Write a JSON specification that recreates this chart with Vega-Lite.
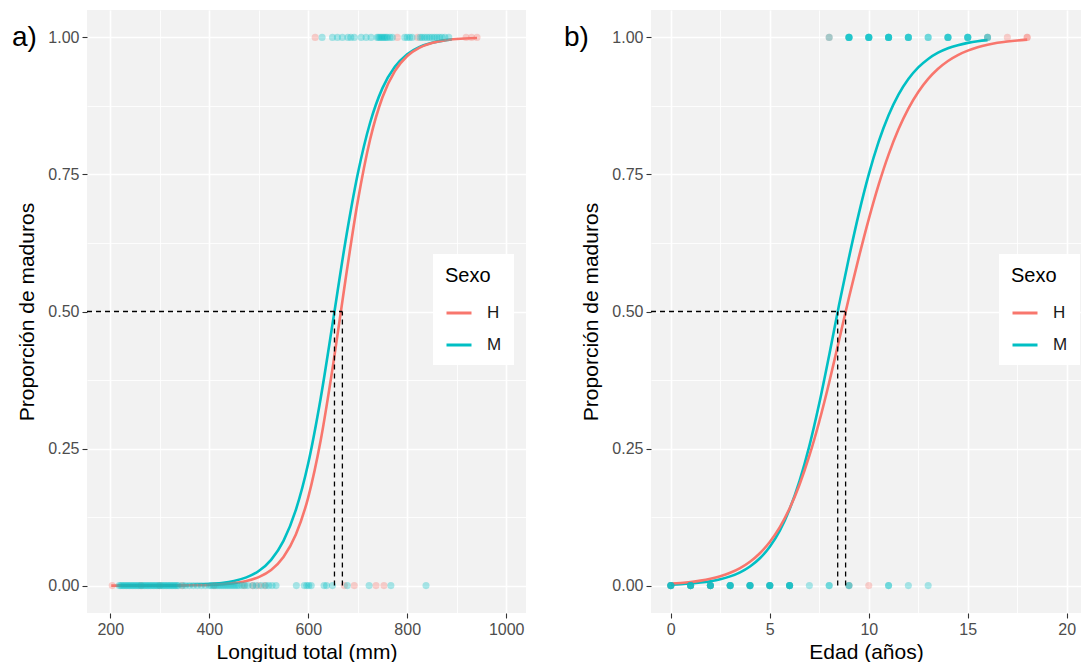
{
  "$schema": "https://vega.github.io/schema/vega-lite/v6.json",
  "padding": {"left": 12, "top": 10, "right": 0, "bottom": 0},
  "background": "white",
  "spacing": 38,
  "config": {
    "font": "Liberation Sans",
    "view": {"fill": "#F2F2F2", "stroke": null},
    "axis": {
      "domain": false,
      "grid": true,
      "gridColor": "#FFFFFF",
      "labelFontSize": 16,
      "labelColor": "#4D4D4D",
      "labelPadding": 3,
      "tickSize": 5,
      "tickWidth": 1.1,
      "titleFontSize": 21,
      "titleFontWeight": "normal",
      "titleColor": "#000000"
    },
    "legend": {
      "orient": "none",
      "legendX": 346,
      "legendY": 244,
      "padding": 12,
      "fillColor": "#FFFFFF",
      "titleFontSize": 20,
      "titleFontWeight": "normal",
      "titleColor": "#000000",
      "titlePadding": 13,
      "labelFontSize": 17,
      "labelColor": "#1A1A1A",
      "labelOffset": 14,
      "symbolType": "stroke",
      "symbolSize": 625,
      "symbolStrokeWidth": 3,
      "symbolOpacity": 1,
      "rowPadding": 10
    },
    "title": {"fontSize": 28, "fontWeight": "normal", "color": "#000000", "anchor": "start", "frame": "group", "baseline": "alphabetic"}
  },
  "datasets": {
    "curvesA": [
      {"x": 215, "p": 0.0000, "sexo": "M"}, {"x": 250, "p": 0.0001, "sexo": "M"}, {"x": 300, "p": 0.0003, "sexo": "M"},
      {"x": 350, "p": 0.0008, "sexo": "M"}, {"x": 400, "p": 0.0026, "sexo": "M"}, {"x": 425, "p": 0.0047, "sexo": "M"},
      {"x": 450, "p": 0.0084, "sexo": "M"}, {"x": 475, "p": 0.0150, "sexo": "M"}, {"x": 500, "p": 0.0266, "sexo": "M"},
      {"x": 525, "p": 0.0470, "sexo": "M"}, {"x": 550, "p": 0.0816, "sexo": "M"}, {"x": 575, "p": 0.1381, "sexo": "M"},
      {"x": 600, "p": 0.2232, "sexo": "M"}, {"x": 625, "p": 0.3410, "sexo": "M"}, {"x": 650, "p": 0.4824, "sexo": "M"},
      {"x": 675, "p": 0.6268, "sexo": "M"}, {"x": 700, "p": 0.7507, "sexo": "M"}, {"x": 725, "p": 0.8443, "sexo": "M"},
      {"x": 750, "p": 0.9075, "sexo": "M"}, {"x": 775, "p": 0.9463, "sexo": "M"}, {"x": 800, "p": 0.9694, "sexo": "M"},
      {"x": 825, "p": 0.9827, "sexo": "M"}, {"x": 850, "p": 0.9903, "sexo": "M"}, {"x": 875, "p": 0.9946, "sexo": "M"},
      {"x": 890, "p": 0.9962, "sexo": "M"},
      {"x": 202, "p": 0.0000, "sexo": "H"}, {"x": 250, "p": 0.0000, "sexo": "H"}, {"x": 300, "p": 0.0001, "sexo": "H"},
      {"x": 350, "p": 0.0004, "sexo": "H"}, {"x": 400, "p": 0.0013, "sexo": "H"}, {"x": 450, "p": 0.0045, "sexo": "H"},
      {"x": 475, "p": 0.0083, "sexo": "H"}, {"x": 500, "p": 0.0155, "sexo": "H"}, {"x": 525, "p": 0.0285, "sexo": "H"},
      {"x": 550, "p": 0.0522, "sexo": "H"}, {"x": 575, "p": 0.0932, "sexo": "H"}, {"x": 600, "p": 0.1610, "sexo": "H"},
      {"x": 625, "p": 0.2641, "sexo": "H"}, {"x": 650, "p": 0.4013, "sexo": "H"}, {"x": 675, "p": 0.5560, "sexo": "H"},
      {"x": 700, "p": 0.7006, "sexo": "H"}, {"x": 725, "p": 0.8138, "sexo": "H"}, {"x": 750, "p": 0.8909, "sexo": "H"},
      {"x": 775, "p": 0.9385, "sexo": "H"}, {"x": 800, "p": 0.9661, "sexo": "H"}, {"x": 825, "p": 0.9815, "sexo": "H"},
      {"x": 850, "p": 0.9900, "sexo": "H"}, {"x": 875, "p": 0.9946, "sexo": "H"}, {"x": 900, "p": 0.9971, "sexo": "H"},
      {"x": 941, "p": 0.9990, "sexo": "H"}
    ],
    "pointsA": [
      {"x": 204, "p": 0, "sexo": "H"}, {"x": 262, "p": 0, "sexo": "H"}, {"x": 300, "p": 0, "sexo": "H"}, {"x": 345, "p": 0, "sexo": "H"},
      {"x": 410, "p": 0, "sexo": "H"}, {"x": 470, "p": 0, "sexo": "H"}, {"x": 488, "p": 0, "sexo": "H"}, {"x": 500, "p": 0, "sexo": "H"},
      {"x": 512, "p": 0, "sexo": "H"}, {"x": 673, "p": 0, "sexo": "H"}, {"x": 693, "p": 0, "sexo": "H"}, {"x": 737, "p": 0, "sexo": "H"},
      {"x": 753, "p": 0, "sexo": "H"},
      {"x": 218, "p": 0, "sexo": "M"}, {"x": 221, "p": 0, "sexo": "M"}, {"x": 224, "p": 0, "sexo": "M"}, {"x": 227, "p": 0, "sexo": "M"},
      {"x": 230, "p": 0, "sexo": "M"}, {"x": 233, "p": 0, "sexo": "M"}, {"x": 236, "p": 0, "sexo": "M"}, {"x": 239, "p": 0, "sexo": "M"},
      {"x": 242, "p": 0, "sexo": "M"}, {"x": 245, "p": 0, "sexo": "M"}, {"x": 248, "p": 0, "sexo": "M"}, {"x": 251, "p": 0, "sexo": "M"},
      {"x": 254, "p": 0, "sexo": "M"}, {"x": 257, "p": 0, "sexo": "M"}, {"x": 260, "p": 0, "sexo": "M"}, {"x": 263, "p": 0, "sexo": "M"},
      {"x": 266, "p": 0, "sexo": "M"}, {"x": 269, "p": 0, "sexo": "M"}, {"x": 272, "p": 0, "sexo": "M"}, {"x": 275, "p": 0, "sexo": "M"},
      {"x": 278, "p": 0, "sexo": "M"}, {"x": 281, "p": 0, "sexo": "M"}, {"x": 284, "p": 0, "sexo": "M"}, {"x": 287, "p": 0, "sexo": "M"},
      {"x": 290, "p": 0, "sexo": "M"}, {"x": 293, "p": 0, "sexo": "M"}, {"x": 296, "p": 0, "sexo": "M"}, {"x": 299, "p": 0, "sexo": "M"},
      {"x": 302, "p": 0, "sexo": "M"}, {"x": 305, "p": 0, "sexo": "M"}, {"x": 308, "p": 0, "sexo": "M"}, {"x": 311, "p": 0, "sexo": "M"},
      {"x": 314, "p": 0, "sexo": "M"}, {"x": 317, "p": 0, "sexo": "M"}, {"x": 320, "p": 0, "sexo": "M"}, {"x": 323, "p": 0, "sexo": "M"},
      {"x": 326, "p": 0, "sexo": "M"}, {"x": 329, "p": 0, "sexo": "M"}, {"x": 332, "p": 0, "sexo": "M"}, {"x": 335, "p": 0, "sexo": "M"},
      {"x": 338, "p": 0, "sexo": "M"}, {"x": 346, "p": 0, "sexo": "M"}, {"x": 352, "p": 0, "sexo": "M"}, {"x": 360, "p": 0, "sexo": "M"},
      {"x": 368, "p": 0, "sexo": "M"}, {"x": 376, "p": 0, "sexo": "M"}, {"x": 384, "p": 0, "sexo": "M"}, {"x": 392, "p": 0, "sexo": "M"},
      {"x": 400, "p": 0, "sexo": "M"}, {"x": 404, "p": 0, "sexo": "M"}, {"x": 408, "p": 0, "sexo": "M"}, {"x": 412, "p": 0, "sexo": "M"},
      {"x": 416, "p": 0, "sexo": "M"}, {"x": 420, "p": 0, "sexo": "M"}, {"x": 424, "p": 0, "sexo": "M"}, {"x": 428, "p": 0, "sexo": "M"},
      {"x": 432, "p": 0, "sexo": "M"}, {"x": 436, "p": 0, "sexo": "M"}, {"x": 440, "p": 0, "sexo": "M"}, {"x": 444, "p": 0, "sexo": "M"},
      {"x": 448, "p": 0, "sexo": "M"}, {"x": 452, "p": 0, "sexo": "M"}, {"x": 456, "p": 0, "sexo": "M"}, {"x": 460, "p": 0, "sexo": "M"},
      {"x": 466, "p": 0, "sexo": "M"}, {"x": 472, "p": 0, "sexo": "M"}, {"x": 478, "p": 0, "sexo": "M"}, {"x": 488, "p": 0, "sexo": "M"},
      {"x": 495, "p": 0, "sexo": "M"}, {"x": 505, "p": 0, "sexo": "M"}, {"x": 514, "p": 0, "sexo": "M"}, {"x": 520, "p": 0, "sexo": "M"},
      {"x": 527, "p": 0, "sexo": "M"}, {"x": 535, "p": 0, "sexo": "M"}, {"x": 576, "p": 0, "sexo": "M"}, {"x": 592, "p": 0, "sexo": "M"},
      {"x": 597, "p": 0, "sexo": "M"}, {"x": 601, "p": 0, "sexo": "M"}, {"x": 606, "p": 0, "sexo": "M"}, {"x": 632, "p": 0, "sexo": "M"},
      {"x": 637, "p": 0, "sexo": "M"}, {"x": 649, "p": 0, "sexo": "M"}, {"x": 679, "p": 0, "sexo": "M"}, {"x": 723, "p": 0, "sexo": "M"},
      {"x": 767, "p": 0, "sexo": "M"}, {"x": 838, "p": 0, "sexo": "M"},
      {"x": 614, "p": 1, "sexo": "H"}, {"x": 780, "p": 1, "sexo": "H"}, {"x": 821, "p": 1, "sexo": "H"}, {"x": 919, "p": 1, "sexo": "H"},
      {"x": 930, "p": 1, "sexo": "H"}, {"x": 941, "p": 1, "sexo": "H"},
      {"x": 628, "p": 1, "sexo": "M"}, {"x": 649, "p": 1, "sexo": "M"}, {"x": 659, "p": 1, "sexo": "M"}, {"x": 669, "p": 1, "sexo": "M"},
      {"x": 680, "p": 1, "sexo": "M"}, {"x": 686, "p": 1, "sexo": "M"}, {"x": 693, "p": 1, "sexo": "M"}, {"x": 707, "p": 1, "sexo": "M"},
      {"x": 717, "p": 1, "sexo": "M"}, {"x": 727, "p": 1, "sexo": "M"}, {"x": 739, "p": 1, "sexo": "M"}, {"x": 742, "p": 1, "sexo": "M"},
      {"x": 745, "p": 1, "sexo": "M"}, {"x": 748, "p": 1, "sexo": "M"}, {"x": 751, "p": 1, "sexo": "M"}, {"x": 754, "p": 1, "sexo": "M"},
      {"x": 757, "p": 1, "sexo": "M"}, {"x": 760, "p": 1, "sexo": "M"}, {"x": 765, "p": 1, "sexo": "M"}, {"x": 770, "p": 1, "sexo": "M"},
      {"x": 795, "p": 1, "sexo": "M"}, {"x": 800, "p": 1, "sexo": "M"}, {"x": 805, "p": 1, "sexo": "M"}, {"x": 810, "p": 1, "sexo": "M"},
      {"x": 826, "p": 1, "sexo": "M"}, {"x": 830, "p": 1, "sexo": "M"}, {"x": 835, "p": 1, "sexo": "M"}, {"x": 840, "p": 1, "sexo": "M"},
      {"x": 845, "p": 1, "sexo": "M"}, {"x": 850, "p": 1, "sexo": "M"}, {"x": 855, "p": 1, "sexo": "M"}, {"x": 860, "p": 1, "sexo": "M"},
      {"x": 865, "p": 1, "sexo": "M"}, {"x": 870, "p": 1, "sexo": "M"}, {"x": 876, "p": 1, "sexo": "M"}, {"x": 884, "p": 1, "sexo": "M"}
    ],
    "rulesA": [
      {"x": 153, "x2": 669, "p": 0.5, "p2": 0.5},
      {"x": 653, "x2": 653, "p": 0, "p2": 0.5},
      {"x": 669, "x2": 669, "p": 0, "p2": 0.5}
    ],
    "curvesB": [
      {"x": 0, "p": 0.0018, "sexo": "M"}, {"x": 0.5, "p": 0.0026, "sexo": "M"}, {"x": 1, "p": 0.0038, "sexo": "M"},
      {"x": 1.5, "p": 0.0055, "sexo": "M"}, {"x": 2, "p": 0.0080, "sexo": "M"}, {"x": 2.5, "p": 0.0115, "sexo": "M"},
      {"x": 3, "p": 0.0168, "sexo": "M"}, {"x": 3.5, "p": 0.0242, "sexo": "M"}, {"x": 4, "p": 0.0349, "sexo": "M"},
      {"x": 4.5, "p": 0.0498, "sexo": "M"}, {"x": 5, "p": 0.0710, "sexo": "M"}, {"x": 5.5, "p": 0.0999, "sexo": "M"},
      {"x": 6, "p": 0.1394, "sexo": "M"}, {"x": 6.5, "p": 0.1906, "sexo": "M"}, {"x": 7, "p": 0.2549, "sexo": "M"},
      {"x": 7.5, "p": 0.3325, "sexo": "M"}, {"x": 8, "p": 0.4204, "sexo": "M"}, {"x": 8.5, "p": 0.5122, "sexo": "M"},
      {"x": 9, "p": 0.5984, "sexo": "M"}, {"x": 9.5, "p": 0.6790, "sexo": "M"}, {"x": 10, "p": 0.7501, "sexo": "M"},
      {"x": 10.5, "p": 0.8098, "sexo": "M"}, {"x": 11, "p": 0.8580, "sexo": "M"}, {"x": 11.5, "p": 0.8956, "sexo": "M"},
      {"x": 12, "p": 0.9240, "sexo": "M"}, {"x": 12.5, "p": 0.9452, "sexo": "M"}, {"x": 13, "p": 0.9607, "sexo": "M"},
      {"x": 13.5, "p": 0.9721, "sexo": "M"}, {"x": 14, "p": 0.9802, "sexo": "M"}, {"x": 14.5, "p": 0.9859, "sexo": "M"},
      {"x": 15, "p": 0.9900, "sexo": "M"}, {"x": 15.5, "p": 0.9930, "sexo": "M"}, {"x": 16, "p": 0.9950, "sexo": "M"},
      {"x": 0, "p": 0.0035, "sexo": "H"}, {"x": 0.5, "p": 0.0048, "sexo": "H"}, {"x": 1, "p": 0.0066, "sexo": "H"},
      {"x": 1.5, "p": 0.0091, "sexo": "H"}, {"x": 2, "p": 0.0125, "sexo": "H"}, {"x": 2.5, "p": 0.0171, "sexo": "H"},
      {"x": 3, "p": 0.0234, "sexo": "H"}, {"x": 3.5, "p": 0.0320, "sexo": "H"}, {"x": 4, "p": 0.0435, "sexo": "H"},
      {"x": 4.5, "p": 0.0590, "sexo": "H"}, {"x": 5, "p": 0.0794, "sexo": "H"}, {"x": 5.5, "p": 0.1061, "sexo": "H"},
      {"x": 6, "p": 0.1406, "sexo": "H"}, {"x": 6.5, "p": 0.1839, "sexo": "H"}, {"x": 7, "p": 0.2369, "sexo": "H"},
      {"x": 7.5, "p": 0.2994, "sexo": "H"}, {"x": 8, "p": 0.3705, "sexo": "H"}, {"x": 8.5, "p": 0.4477, "sexo": "H"},
      {"x": 9, "p": 0.5255, "sexo": "H"}, {"x": 9.5, "p": 0.5992, "sexo": "H"}, {"x": 10, "p": 0.6686, "sexo": "H"},
      {"x": 10.5, "p": 0.7314, "sexo": "H"}, {"x": 11, "p": 0.7862, "sexo": "H"}, {"x": 11.5, "p": 0.8323, "sexo": "H"},
      {"x": 12, "p": 0.8701, "sexo": "H"}, {"x": 12.5, "p": 0.9004, "sexo": "H"}, {"x": 13, "p": 0.9243, "sexo": "H"},
      {"x": 13.5, "p": 0.9428, "sexo": "H"}, {"x": 14, "p": 0.9570, "sexo": "H"}, {"x": 14.5, "p": 0.9678, "sexo": "H"},
      {"x": 15, "p": 0.9759, "sexo": "H"}, {"x": 15.5, "p": 0.9820, "sexo": "H"}, {"x": 16, "p": 0.9866, "sexo": "H"},
      {"x": 16.5, "p": 0.9901, "sexo": "H"}, {"x": 17, "p": 0.9926, "sexo": "H"}, {"x": 17.5, "p": 0.9945, "sexo": "H"},
      {"x": 18, "p": 0.9959, "sexo": "H"}
    ],
    "pointsB": [
      {"x": 0, "p": 0, "sexo": "H"}, {"x": 0, "p": 0, "sexo": "H"}, {"x": 1, "p": 0, "sexo": "H"}, {"x": 1, "p": 0, "sexo": "H"},
      {"x": 2, "p": 0, "sexo": "H"}, {"x": 2, "p": 0, "sexo": "H"}, {"x": 3, "p": 0, "sexo": "H"}, {"x": 4, "p": 0, "sexo": "H"},
      {"x": 5, "p": 0, "sexo": "H"}, {"x": 6, "p": 0, "sexo": "H"}, {"x": 9, "p": 0, "sexo": "H"}, {"x": 10, "p": 0, "sexo": "H"},
      {"x": 8, "p": 1, "sexo": "H"}, {"x": 16, "p": 1, "sexo": "H"}, {"x": 17, "p": 1, "sexo": "H"}, {"x": 18, "p": 1, "sexo": "H"},
      {"x": 18, "p": 1, "sexo": "H"},
      {"x": 0, "p": 0, "sexo": "M"}, {"x": 0, "p": 0, "sexo": "M"}, {"x": 0, "p": 0, "sexo": "M"}, {"x": 0, "p": 0, "sexo": "M"}, {"x": 0, "p": 0, "sexo": "M"},
      {"x": 1, "p": 0, "sexo": "M"}, {"x": 1, "p": 0, "sexo": "M"}, {"x": 1, "p": 0, "sexo": "M"}, {"x": 1, "p": 0, "sexo": "M"}, {"x": 1, "p": 0, "sexo": "M"},
      {"x": 2, "p": 0, "sexo": "M"}, {"x": 2, "p": 0, "sexo": "M"}, {"x": 2, "p": 0, "sexo": "M"}, {"x": 2, "p": 0, "sexo": "M"}, {"x": 2, "p": 0, "sexo": "M"},
      {"x": 3, "p": 0, "sexo": "M"}, {"x": 3, "p": 0, "sexo": "M"}, {"x": 3, "p": 0, "sexo": "M"}, {"x": 3, "p": 0, "sexo": "M"}, {"x": 3, "p": 0, "sexo": "M"},
      {"x": 4, "p": 0, "sexo": "M"}, {"x": 4, "p": 0, "sexo": "M"}, {"x": 4, "p": 0, "sexo": "M"}, {"x": 4, "p": 0, "sexo": "M"}, {"x": 4, "p": 0, "sexo": "M"},
      {"x": 5, "p": 0, "sexo": "M"}, {"x": 5, "p": 0, "sexo": "M"}, {"x": 5, "p": 0, "sexo": "M"}, {"x": 5, "p": 0, "sexo": "M"}, {"x": 5, "p": 0, "sexo": "M"},
      {"x": 6, "p": 0, "sexo": "M"}, {"x": 6, "p": 0, "sexo": "M"}, {"x": 6, "p": 0, "sexo": "M"}, {"x": 6, "p": 0, "sexo": "M"}, {"x": 6, "p": 0, "sexo": "M"},
      {"x": 7, "p": 0, "sexo": "M"}, {"x": 8, "p": 0, "sexo": "M"}, {"x": 8, "p": 0, "sexo": "M"},
      {"x": 9, "p": 0, "sexo": "M"}, {"x": 9, "p": 0, "sexo": "M"},
      {"x": 11, "p": 0, "sexo": "M"}, {"x": 11, "p": 0, "sexo": "M"}, {"x": 12, "p": 0, "sexo": "M"}, {"x": 13, "p": 0, "sexo": "M"},
      {"x": 8, "p": 1, "sexo": "M"},
      {"x": 9, "p": 1, "sexo": "M"}, {"x": 9, "p": 1, "sexo": "M"}, {"x": 9, "p": 1, "sexo": "M"}, {"x": 9, "p": 1, "sexo": "M"}, {"x": 9, "p": 1, "sexo": "M"},
      {"x": 10, "p": 1, "sexo": "M"}, {"x": 10, "p": 1, "sexo": "M"}, {"x": 10, "p": 1, "sexo": "M"}, {"x": 10, "p": 1, "sexo": "M"}, {"x": 10, "p": 1, "sexo": "M"},
      {"x": 11, "p": 1, "sexo": "M"}, {"x": 11, "p": 1, "sexo": "M"}, {"x": 11, "p": 1, "sexo": "M"}, {"x": 11, "p": 1, "sexo": "M"}, {"x": 11, "p": 1, "sexo": "M"},
      {"x": 12, "p": 1, "sexo": "M"}, {"x": 12, "p": 1, "sexo": "M"}, {"x": 12, "p": 1, "sexo": "M"}, {"x": 12, "p": 1, "sexo": "M"},
      {"x": 13, "p": 1, "sexo": "M"}, {"x": 13, "p": 1, "sexo": "M"},
      {"x": 14, "p": 1, "sexo": "M"}, {"x": 14, "p": 1, "sexo": "M"}, {"x": 14, "p": 1, "sexo": "M"}, {"x": 14, "p": 1, "sexo": "M"},
      {"x": 15, "p": 1, "sexo": "M"}, {"x": 15, "p": 1, "sexo": "M"}, {"x": 15, "p": 1, "sexo": "M"}, {"x": 15, "p": 1, "sexo": "M"},
      {"x": 16, "p": 1, "sexo": "M"}, {"x": 16, "p": 1, "sexo": "M"}
    ],
    "rulesB": [
      {"x": -1, "x2": 8.83, "p": 0.5, "p2": 0.5},
      {"x": 8.43, "x2": 8.43, "p": 0, "p2": 0.5},
      {"x": 8.83, "x2": 8.83, "p": 0, "p2": 0.5}
    ]
  },
  "resolve": {"legend": {"color": "independent"}},
  "hconcat": [
    {
      "width": 439,
      "height": 603,
      "title": {"text": "a)", "offset": -42, "dx": -75},
      "encoding": {
        "x": {
          "field": "x", "type": "quantitative",
          "scale": {"domain": [153, 1040], "nice": false, "zero": false},
          "axis": {
            "title": "Longitud total (mm)",
            "values": [200, 300, 400, 500, 600, 700, 800, 900, 1000],
            "labelExpr": "datum.value % 200 == 0 ? format(datum.value, 'd') : ''",
            "gridWidth": {"condition": {"test": "datum.value % 200 == 0", "value": 1.6}, "value": 0.8},
            "tickColor": {"condition": {"test": "datum.value % 200 == 0", "value": "#333333"}, "value": "transparent"},
            "titlePadding": 4
          }
        },
        "y": {
          "field": "p", "type": "quantitative",
          "scale": {"domain": [-0.05, 1.05], "nice": false, "zero": false},
          "axis": {
            "title": "Proporción de maduros",
            "values": [0, 0.125, 0.25, 0.375, 0.5, 0.625, 0.75, 0.875, 1],
            "labelExpr": "(datum.value * 4) % 1 == 0 ? format(datum.value, '.2f') : ''",
            "gridWidth": {"condition": {"test": "(datum.value * 4) % 1 == 0", "value": 1.6}, "value": 0.8},
            "tickColor": {"condition": {"test": "(datum.value * 4) % 1 == 0", "value": "#333333"}, "value": "transparent"},
            "titlePadding": 10
          }
        }
      },
      "layer": [
        {
          "data": {"name": "curvesA"},
          "mark": {"type": "line", "strokeWidth": 2.6, "interpolate": "monotone"},
          "encoding": {
            "color": {"field": "sexo", "type": "nominal", "scale": {"domain": ["H", "M"], "range": ["#F8766D", "#00BFC4"]}, "legend": {"title": "Sexo"}}
          }
        },
        {
          "data": {"name": "pointsA"},
          "mark": {"type": "circle", "size": 50, "opacity": 0.33},
          "encoding": {
            "color": {"field": "sexo", "type": "nominal", "scale": {"domain": ["H", "M"], "range": ["#F8766D", "#00BFC4"]}, "legend": {"title": "Sexo"}}
          }
        },
        {
          "data": {"name": "rulesA"},
          "mark": {"type": "rule", "color": "#000000", "strokeWidth": 1.3, "strokeDash": [5, 4]},
          "encoding": {"x2": {"field": "x2"}, "y2": {"field": "p2"}}
        }
      ]
    },
    {
      "width": 430,
      "height": 603,
      "title": {"text": "b)", "offset": -42, "dx": -87},
      "encoding": {
        "x": {
          "field": "x", "type": "quantitative",
          "scale": {"domain": [-1, 20.72], "nice": false, "zero": false},
          "axis": {
            "title": "Edad (años)",
            "values": [0, 2.5, 5, 7.5, 10, 12.5, 15, 17.5, 20],
            "labelExpr": "datum.value % 5 == 0 ? datum.label : ''",
            "gridWidth": {"condition": {"test": "datum.value % 5 == 0", "value": 1.6}, "value": 0.8},
            "tickColor": {"condition": {"test": "datum.value % 5 == 0", "value": "#333333"}, "value": "transparent"},
            "titlePadding": 4
          }
        },
        "y": {
          "field": "p", "type": "quantitative",
          "scale": {"domain": [-0.05, 1.05], "nice": false, "zero": false},
          "axis": {
            "title": "Proporción de maduros",
            "values": [0, 0.125, 0.25, 0.375, 0.5, 0.625, 0.75, 0.875, 1],
            "labelExpr": "(datum.value * 4) % 1 == 0 ? format(datum.value, '.2f') : ''",
            "gridWidth": {"condition": {"test": "(datum.value * 4) % 1 == 0", "value": 1.6}, "value": 0.8},
            "tickColor": {"condition": {"test": "(datum.value * 4) % 1 == 0", "value": "#333333"}, "value": "transparent"},
            "titlePadding": 10
          }
        }
      },
      "layer": [
        {
          "data": {"name": "curvesB"},
          "mark": {"type": "line", "strokeWidth": 2.6, "interpolate": "monotone"},
          "encoding": {
            "color": {"field": "sexo", "type": "nominal", "scale": {"domain": ["H", "M"], "range": ["#F8766D", "#00BFC4"]}, "legend": {"title": "Sexo", "legendX": 348}}
          }
        },
        {
          "data": {"name": "pointsB"},
          "mark": {"type": "circle", "size": 50, "opacity": 0.33},
          "encoding": {
            "color": {"field": "sexo", "type": "nominal", "scale": {"domain": ["H", "M"], "range": ["#F8766D", "#00BFC4"]}, "legend": {"title": "Sexo", "legendX": 348}}
          }
        },
        {
          "data": {"name": "rulesB"},
          "mark": {"type": "rule", "color": "#000000", "strokeWidth": 1.3, "strokeDash": [5, 4]},
          "encoding": {"x2": {"field": "x2"}, "y2": {"field": "p2"}}
        }
      ]
    }
  ]
}
